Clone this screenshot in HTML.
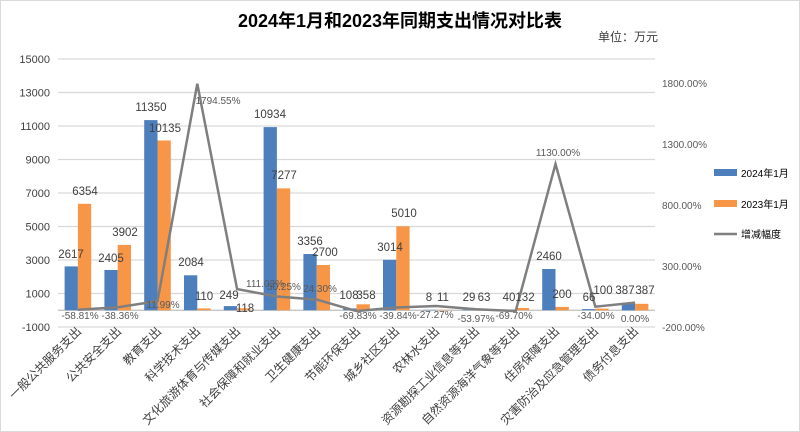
<!DOCTYPE html>
<html><head><meta charset="utf-8"><style>
body{margin:0;background:#fff;}
svg{display:block;font-family:"Liberation Sans","Noto Sans CJK SC",sans-serif;}
</style></head><body>
<svg width="800" height="432" viewBox="0 0 800 432" xmlns="http://www.w3.org/2000/svg">
<rect x="0.5" y="0.5" width="799" height="431" fill="#fff" stroke="#d9d9d9"/>
<text x="400" y="27" text-anchor="middle" font-size="18" font-weight="bold" fill="#000">2024年1月和2023年同期支出情况对比表</text>
<text x="598" y="41" font-size="12" fill="#404040">单位：万元</text>
<g stroke="#d9d9d9" stroke-width="1.3">
<line x1="58" x2="655" y1="59" y2="59"/><line x1="58" x2="655" y1="92.5" y2="92.5"/><line x1="58" x2="655" y1="126" y2="126"/><line x1="58" x2="655" y1="159.5" y2="159.5"/><line x1="58" x2="655" y1="193" y2="193"/><line x1="58" x2="655" y1="226.5" y2="226.5"/><line x1="58" x2="655" y1="260" y2="260"/><line x1="58" x2="655" y1="293.5" y2="293.5"/><line x1="58" x2="655" y1="327" y2="327"/>
<line x1="58" x2="655" y1="310.25" y2="310.25" stroke="#bfbfbf"/>
</g>
<g font-size="11" fill="#404040" text-anchor="end">
<text x="50" y="63">15000</text><text x="50" y="96.5">13000</text><text x="50" y="130">11000</text><text x="50" y="163.5">9000</text><text x="50" y="197">7000</text><text x="50" y="230.5">5000</text><text x="50" y="264">3000</text><text x="50" y="297.5">1000</text><text x="50" y="331">-1000</text>
</g>
<g font-size="10" fill="#595959">
<text x="662" y="87">1800.00%</text><text x="662" y="148">1300.00%</text><text x="662" y="209">800.00%</text><text x="662" y="270">300.00%</text><text x="662" y="331">-200.00%</text>
</g>
<g fill="#4e7fbd">
<rect x="64.6" y="266.4" width="13.3" height="43.8"/><rect x="104.4" y="270" width="13.3" height="40.3"/><rect x="144.2" y="120.1" width="13.3" height="190.1"/><rect x="184" y="275.3" width="13.3" height="34.9"/><rect x="223.8" y="306.1" width="13.3" height="4.2"/><rect x="263.6" y="127.1" width="13.3" height="183.1"/><rect x="303.4" y="254" width="13.3" height="56.2"/><rect x="343.2" y="308.4" width="13.3" height="1.8"/><rect x="383" y="259.8" width="13.3" height="50.5"/><rect x="422.8" y="309.9" width="13.3" height="0.4"/><rect x="462.6" y="309.7" width="13.3" height="0.6"/><rect x="502.4" y="309.5" width="13.3" height="0.8"/><rect x="542.2" y="269" width="13.3" height="41.2"/><rect x="582" y="309.1" width="13.3" height="1.1"/><rect x="621.8" y="303.8" width="13.3" height="6.5"/>
</g>
<g fill="#f79646">
<rect x="77.9" y="203.8" width="13.3" height="106.4"/><rect x="117.7" y="244.9" width="13.3" height="65.4"/><rect x="157.5" y="140.5" width="13.3" height="169.8"/><rect x="197.3" y="308.4" width="13.3" height="1.8"/><rect x="237.1" y="308.3" width="13.3" height="2"/><rect x="276.9" y="188.4" width="13.3" height="121.9"/><rect x="316.7" y="265" width="13.3" height="45.2"/><rect x="356.5" y="304.3" width="13.3" height="6"/><rect x="396.3" y="226.3" width="13.3" height="83.9"/><rect x="436.1" y="309.9" width="13.3" height="0.4"/><rect x="475.9" y="309.1" width="13.3" height="1.1"/><rect x="515.7" y="308" width="13.3" height="2.2"/><rect x="555.5" y="306.9" width="13.3" height="3.4"/><rect x="595.3" y="308.6" width="13.3" height="1.7"/><rect x="635.1" y="303.8" width="13.3" height="6.5"/>
</g>
<polyline fill="none" stroke="#7f7f7f" stroke-width="2.5" stroke-linejoin="miter" points="77.9,309.8 117.7,307.3 157.5,301.1 197.3,83.7 237.1,289.1 276.9,296.5 316.7,299.6 356.5,311.1 396.3,307.5 436.1,306 475.9,309.2 515.7,311.1 555.5,164.1 595.3,306.7 635.1,302.6"/>
<g font-size="11.5" fill="#404040" text-anchor="middle">
<text x="71" y="258">2617</text><text x="85" y="195">6354</text>
<text x="111" y="262">2405</text><text x="125" y="236">3902</text>
<text x="151" y="111">11350</text><text x="165" y="132">10135</text>
<text x="191" y="266">2084</text><text x="204" y="300">110</text>
<text x="229" y="299">249</text><text x="245" y="312">118</text>
<text x="270" y="118">10934</text><text x="284" y="179">7277</text>
<text x="310" y="245">3356</text><text x="325" y="256">2700</text>
<text x="349" y="299">108</text><text x="366" y="299">358</text>
<text x="390" y="251">3014</text><text x="404" y="217">5010</text>
<text x="429" y="301">8</text><text x="443" y="301">11</text>
<text x="469" y="301">29</text><text x="484" y="301">63</text>
<text x="509" y="301">40</text><text x="525" y="301">132</text>
<text x="549" y="260">2460</text><text x="562" y="298">200</text>
<text x="589" y="301">66</text><text x="603" y="294">100</text>
<text x="625" y="294">387</text><text x="645" y="294">387</text>
</g>
<g font-size="10" fill="#595959" text-anchor="middle">
<text x="80" y="319">-58.81%</text><text x="120" y="319">-38.36%</text><text x="163" y="308">11.99%</text>
<text x="218" y="104">1794.55%</text><text x="265" y="287">111.02%</text><text x="284" y="290">50.25%</text>
<text x="320" y="292">24.30%</text><text x="358" y="319">-69.83%</text><text x="398" y="319">-39.84%</text>
<text x="435" y="318">-27.27%</text><text x="476" y="322">-53.97%</text><text x="514" y="319">-69.70%</text>
<text x="558" y="156">1130.00%</text><text x="596" y="319">-34.00%</text><text x="635" y="322">0.00%</text>
</g>
<g font-size="12" fill="#404040" text-anchor="end">
<text transform="translate(82,332) rotate(-45)">一般公共服务支出</text>
<text transform="translate(122,332) rotate(-45)">公共安全支出</text>
<text transform="translate(162,332) rotate(-45)">教育支出</text>
<text transform="translate(201,332) rotate(-45)">科学技术支出</text>
<text transform="translate(241,332) rotate(-45)">文化旅游体育与传媒支出</text>
<text transform="translate(281,332) rotate(-45)">社会保障和就业支出</text>
<text transform="translate(321,332) rotate(-45)">卫生健康支出</text>
<text transform="translate(361,332) rotate(-45)">节能环保支出</text>
<text transform="translate(400,332) rotate(-45)">城乡社区支出</text>
<text transform="translate(440,332) rotate(-45)">农林水支出</text>
<text transform="translate(480,332) rotate(-45)">资源勘探工业信息等支出</text>
<text transform="translate(520,332) rotate(-45)">自然资源海洋气象等支出</text>
<text transform="translate(560,332) rotate(-45)">住房保障支出</text>
<text transform="translate(599,332) rotate(-45)">灾害防治及应急管理支出</text>
<text transform="translate(639,332) rotate(-45)">债务付息支出</text>
</g>
<rect x="714" y="169" width="23" height="7" fill="#4e7fbd"/>
<text x="741" y="177" font-size="10" fill="#000">2024年1月</text>
<rect x="714" y="200" width="23" height="7" fill="#f79646"/>
<text x="741" y="208" font-size="10" fill="#000">2023年1月</text>
<line x1="714" x2="737" y1="234" y2="234" stroke="#7f7f7f" stroke-width="2.5"/>
<text x="741" y="238" font-size="10" fill="#000">增减幅度</text>
</svg>
</body></html>
